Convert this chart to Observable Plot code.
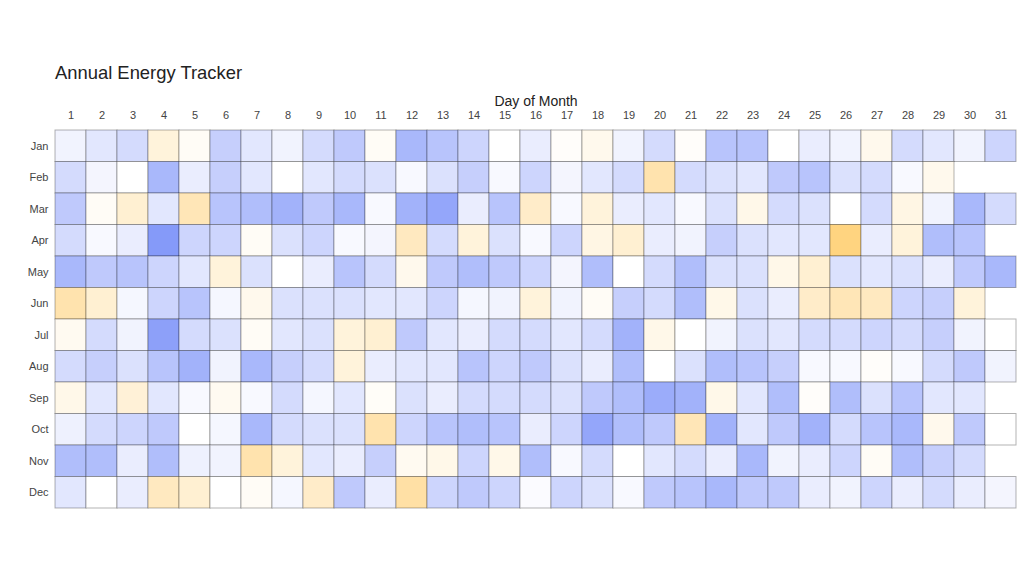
<!DOCTYPE html>
<html>
<head>
<meta charset="utf-8">
<script src="https://cdn.jsdelivr.net/npm/d3@7"></script>
<script src="https://cdn.jsdelivr.net/npm/@observablehq/plot@0.6"></script>
<style>
  html, body { margin: 0; padding: 0; background: #fff; }
  body { width: 1024px; height: 576px; overflow: hidden; font-family: "Liberation Sans", Arial, sans-serif; }
  #title { padding: 61px 0 0 55px; height: 23px; font-size: 18.4px; line-height: 23px; color: #222; }
  #chart svg { display: block; font-family: "Liberation Sans", Arial, sans-serif; }
  #chart [aria-label="x-axis label"] { font-size: 14px; fill: #222; }
  #chart [aria-label="x-axis tick label"], #chart [aria-label="y-axis tick label"] { font-size: 11px; fill: #444; }
</style>
</head>
<body>
<div id="title">Annual Energy Tracker</div>
<div id="chart"></div>
<script>
const months = ["Jan","Feb","Mar","Apr","May","Jun","Jul","Aug","Sep","Oct","Nov","Dec"];
const days = d3.range(1, 32);

// Daily energy deviation (negative = blue/low, positive = yellow/high); null = no such day
const jan = [-0.1,-0.2,-0.3,0.2,0.05,-0.4,-0.2,-0.1,-0.3,-0.45,0.05,-0.6,-0.5,-0.35,0,-0.15,0.03,0.1,-0.1,-0.3,0.03,-0.5,-0.5,0,-0.15,-0.1,0.1,-0.3,-0.2,-0.1,-0.35];
const feb = [-0.3,-0.08,0,-0.6,-0.15,-0.4,-0.2,0,-0.2,-0.3,-0.25,-0.05,-0.25,-0.4,-0.05,-0.35,-0.08,-0.2,-0.3,0.45,-0.3,-0.25,-0.2,-0.45,-0.5,-0.25,-0.3,-0.05,0.1,null,null];
const mar = [-0.45,0.05,0.25,-0.2,0.4,-0.5,-0.55,-0.65,-0.45,-0.6,-0.05,-0.65,-0.75,-0.15,-0.5,0.3,-0.05,0.2,-0.15,-0.2,-0.05,-0.25,0.12,-0.3,-0.25,0,-0.3,0.15,-0.1,-0.6,-0.3];
const apr = [-0.3,-0.05,-0.15,-0.85,-0.35,-0.35,0.05,-0.25,-0.35,-0.05,-0.08,0.35,-0.3,0.2,-0.25,-0.05,-0.35,0.15,0.25,-0.15,-0.1,-0.4,-0.25,-0.2,-0.2,0.7,-0.15,0.2,-0.55,-0.5,null];
const may = [-0.6,-0.45,-0.5,-0.35,-0.2,0.2,-0.25,0,-0.15,-0.5,-0.3,0.1,-0.45,-0.55,-0.45,-0.35,-0.08,-0.55,0,-0.3,-0.55,-0.25,-0.25,0.12,0.25,-0.25,-0.2,-0.25,-0.15,-0.45,-0.6];
const jun = [0.45,0.25,-0.07,-0.35,-0.5,-0.07,0.1,-0.25,-0.25,-0.25,-0.2,-0.2,-0.35,-0.07,-0.1,0.2,-0.1,0.05,-0.4,-0.3,-0.55,0.12,-0.25,-0.15,0.3,0.4,0.35,-0.35,-0.4,0.2,null];
const jul = [0.08,-0.3,-0.1,-0.8,-0.3,-0.25,0.05,-0.2,-0.25,0.2,0.25,-0.45,-0.2,-0.15,-0.3,-0.3,-0.2,-0.3,-0.65,0.12,0,-0.1,-0.25,-0.2,-0.3,-0.3,-0.35,-0.3,-0.4,-0.1,0];
const aug = [-0.3,-0.4,-0.25,-0.5,-0.65,-0.1,-0.6,-0.4,-0.3,0.2,-0.15,-0.2,-0.2,-0.5,-0.35,-0.45,-0.25,-0.15,-0.55,0,-0.25,-0.55,-0.5,-0.4,-0.05,-0.05,0.03,-0.05,-0.3,-0.45,-0.1];
const sep = [0.12,-0.2,0.22,-0.2,-0.05,0.08,-0.05,-0.3,-0.07,-0.2,0.04,-0.25,-0.15,-0.3,-0.3,-0.3,-0.25,-0.45,-0.55,-0.7,-0.65,0.12,-0.2,-0.55,0.03,-0.55,-0.25,-0.5,-0.2,-0.2,null];
const oct = [-0.12,-0.3,-0.35,-0.45,0,-0.07,-0.6,-0.3,-0.25,-0.25,0.45,-0.35,-0.5,-0.55,-0.5,-0.15,-0.35,-0.75,-0.55,-0.45,0.4,-0.65,-0.2,-0.45,-0.65,-0.3,-0.5,-0.6,0.1,-0.45,0];
const nov = [-0.55,-0.55,-0.15,-0.55,-0.12,-0.1,0.45,0.2,-0.2,-0.15,-0.4,0.08,0.12,-0.35,0.12,-0.55,-0.05,-0.3,0,-0.2,-0.3,-0.15,-0.6,-0.1,-0.15,-0.35,0.05,-0.55,-0.4,-0.3,null];
const dec = [-0.2,0,-0.15,0.35,0.25,0,0.05,-0.07,0.3,-0.45,-0.15,0.5,-0.35,-0.45,-0.35,-0.03,-0.35,-0.25,-0.05,-0.45,-0.5,-0.6,-0.45,-0.45,-0.15,-0.1,-0.35,-0.15,-0.3,-0.15,-0.08];

const rows = [jan, feb, mar, apr, may, jun, jul, aug, sep, oct, nov, dec];
const data = [];
rows.forEach((vals, i) => vals.forEach((v, j) => {
  if (v !== null) data.push({month: months[i], day: days[j], value: v});
}));

const chart = Plot.plot({
  width: 1024,
  height: 444,
  marginTop: 46,
  marginLeft: 55,
  marginRight: 8,
  marginBottom: 20,
  x: {type: "band", domain: days, padding: 0, round: false, axis: "top", tickSize: 0, tickPadding: 12, label: "Day of Month", labelAnchor: "center", labelOffset: 34},
  y: {type: "band", domain: months, padding: 0, round: false, tickSize: 0, tickPadding: 7, label: null},
  color: {type: "linear", domain: [-1, 0, 1], range: ["#7088f8", "#ffffff", "#ffc14a"], clamp: true},
  marks: [
    Plot.cell(data, {x: "day", y: "month", fill: "value", stroke: "#000", strokeOpacity: 0.3, strokeWidth: 1, inset: 0})
  ]
});
document.getElementById("chart").appendChild(chart);
</script>
</body>
</html>
